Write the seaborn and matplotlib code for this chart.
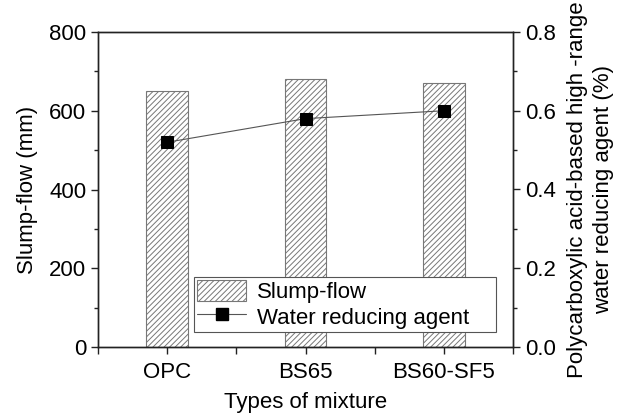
import matplotlib
matplotlib.use("Agg")
import matplotlib.pyplot as plt
import seaborn as sns
import pandas as pd
from matplotlib.patches import Patch
from matplotlib.lines import Line2D
from matplotlib.ticker import MultipleLocator, FormatStrFormatter

categories = ["OPC", "BS65", "BS60-SF5"]
slump_flow = [650, 680, 670]
water_reducer = [0.52, 0.58, 0.60]

sns.set_theme(style="ticks")
plt.rcParams['font.family'] = ['Liberation Sans', 'DejaVu Sans']
plt.rcParams['hatch.linewidth'] = 0.7
plt.rcParams['hatch.color'] = '#666666'
plt.rcParams['text.color'] = 'black'
plt.rcParams['axes.labelcolor'] = 'black'
plt.rcParams['xtick.color'] = 'black'
plt.rcParams['ytick.color'] = 'black'

df = pd.DataFrame({"cat": categories, "slump": slump_flow, "wr": water_reducer})

fig = plt.figure(figsize=(6.23, 4.16), dpi=100)
ax = fig.add_axes([98/623, 69/416, 415/623, 315/416])

sns.barplot(data=df, x="cat", y="slump", ax=ax, color="white", width=0.3,
            edgecolor="#777777", linewidth=0.8, saturation=1)
for p in ax.patches:
    p.set_hatch("//////")
    p.set_facecolor("white")
    p.set_edgecolor("#777777")

ax.set_xlim(-0.5, 2.5)
ax.set_ylim(0, 800)
ax.yaxis.set_major_locator(MultipleLocator(200))
ax.yaxis.set_minor_locator(MultipleLocator(100))
ax.xaxis.set_minor_locator(MultipleLocator(0.5))
ax.set_xlabel("Types of mixture", fontsize=16, labelpad=6)
ax.set_ylabel("Slump-flow (mm)", fontsize=16, labelpad=8)
ax.tick_params(axis="both", which="both", direction="out", labelsize=16, color="#222222", width=1)
ax.tick_params(axis="both", which="major", length=5)
ax.tick_params(axis="both", which="minor", length=3)
ax.tick_params(axis="x", which="minor", length=5)
ax.tick_params(axis="x", which="major", pad=6)
for s in ax.spines.values():
    s.set_color("#222222")
    s.set_linewidth(1)

ax2 = ax.twinx()
sns.lineplot(data=df, x="cat", y="wr", ax=ax2, color="#555555", linewidth=0.8,
             marker="s", markersize=8.5, markerfacecolor="black", markeredgecolor="black")
ax2.set_ylim(0, 0.8)
ax2.yaxis.set_major_locator(MultipleLocator(0.2))
ax2.yaxis.set_minor_locator(MultipleLocator(0.1))
ax2.yaxis.set_major_formatter(FormatStrFormatter('%.1f'))
ax2.set_ylabel("Polycarboxylic acid-based high -range\nwater reducing agent (%)", fontsize=16,
               linespacing=1.3, labelpad=8)
ax2.tick_params(axis="y", which="both", direction="out", labelsize=16, color="#222222", width=1)
ax2.tick_params(axis="y", which="major", length=5)
ax2.tick_params(axis="y", which="minor", length=3)
for s in ax2.spines.values():
    s.set_color("#222222")
    s.set_linewidth(1)
ax2.set_xlim(-0.5, 2.5)

handles = [
    Patch(facecolor="white", edgecolor="#777777", hatch="//////", linewidth=0.8),
    Line2D([], [], color="#555555", linewidth=0.8, marker="s", markersize=8.5,
           markerfacecolor="black", markeredgecolor="black"),
]
leg = ax2.legend(handles, ["Slump-flow", "Water reducing agent"], loc="lower left",
                 bbox_to_anchor=(0.231, 0.048, 0.728, 0.177), mode="expand",
                 fontsize=16, frameon=True, fancybox=False, edgecolor="#555555",
                 framealpha=1, borderpad=0.15, labelspacing=0.1, handlelength=2.2,
                 handleheight=1.1, handletextpad=0.5, borderaxespad=0)
leg.get_frame().set_linewidth(0.8)

fig.savefig("out.png", dpi=100)
